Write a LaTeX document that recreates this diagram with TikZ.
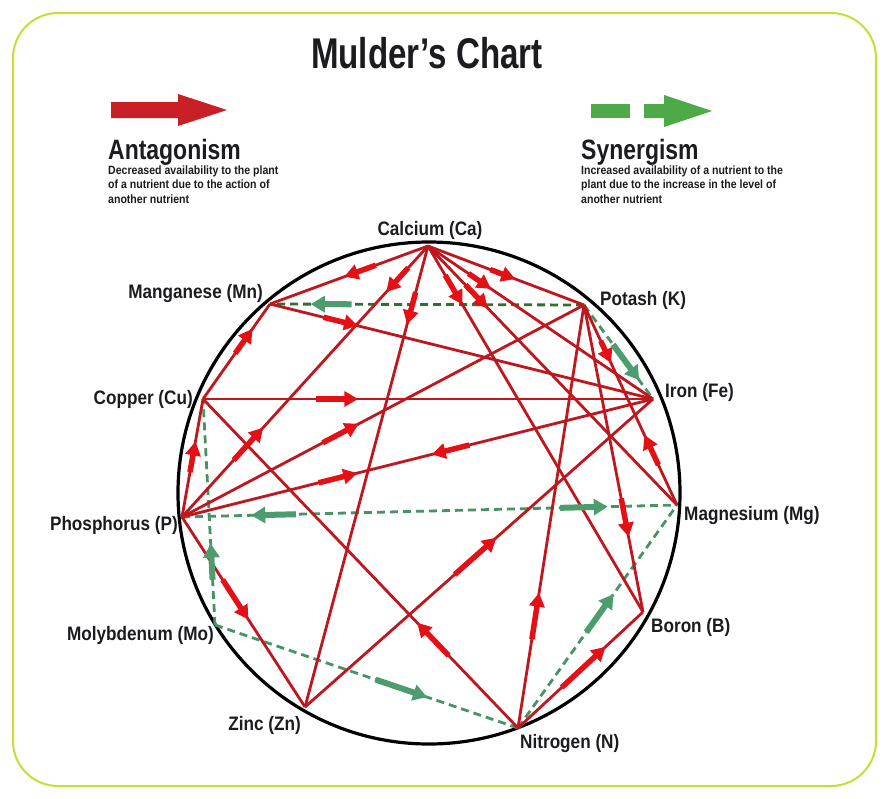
\documentclass[tikz,border=0pt]{standalone}
\usepackage{fontspec}
\usetikzlibrary{calc,arrows.meta}
\newfontfamily\titlefont{Liberation Sans}[FakeStretch=0.77]
\newfontfamily\headfont{Liberation Sans}[FakeStretch=0.82]
\newfontfamily\smallfont{Liberation Sans}[FakeStretch=0.88]
\newfontfamily\labfont{Liberation Sans}[FakeStretch=0.88]
\definecolor{linered}{RGB}{192,22,30}
\definecolor{arrowred}{RGB}{228,16,22}
\definecolor{linegreen}{RGB}{70,148,100}
\definecolor{darkgreen}{RGB}{48,112,44}
\definecolor{arrowgreen}{RGB}{76,156,110}
\definecolor{legred}{RGB}{200,32,38}
\definecolor{leggreen}{RGB}{78,170,72}
\definecolor{bordercol}{RGB}{200,222,50}
\definecolor{txt}{RGB}{28,28,32}
\newcommand\amark[5][ared]{\draw[#1] ($(#2)!#4!(#3)$) -- ($(#2)!#5!(#3)$);}
\begin{document}
\begin{tikzpicture}[x=1pt,y=-1pt,
  redline/.style={draw=linered, line width=2.8pt},
  greenline/.style={draw=linegreen, line width=2.8pt, dash pattern=on 8pt off 5pt},
  darkgreenline/.style={greenline, draw=darkgreen},
  ared/.style={draw=arrowred, line width=5.5pt, -{Triangle[length=14pt,width=15pt]}},
  agreen/.style={draw=arrowgreen, line width=6pt, -{Triangle[length=14pt,width=16pt]}},
  lab/.style={font=\labfont\bfseries\fontsize{19.5}{20}\selectfont, inner sep=0pt, text=txt},
  head/.style={font=\headfont\bfseries\fontsize{28}{28}\selectfont, inner sep=0pt, text=txt},
  small/.style={font=\smallfont\bfseries\fontsize{12}{14.5}\selectfont, inner sep=0pt, text=txt, align=left},
]
\useasboundingbox (0,0) rectangle (889,798);
\fill[white] (0,0) rectangle (889,798);
\draw[bordercol, line width=2pt, rounded corners=45pt] (13,13) rectangle (876,786);

% title and legend
\node[font=\titlefont\bfseries\fontsize{43}{43}\selectfont, inner sep=0pt, text=txt, anchor=base] (title) at (427,68) {Mulder’s Chart};
\fill[legred] (111,102) -- (178,102) -- (178,94) -- (227,110) -- (178,126) -- (178,118) -- (111,118) -- cycle;
\fill[leggreen] (591,104) rectangle (630,118);
\fill[leggreen] (644,104) -- (664,104) -- (664,95) -- (712,111) -- (664,127) -- (664,118) -- (644,118) -- cycle;
\node[head, anchor=base west] (ant) at (108,159) {Antagonism};
\node[small, anchor=north west] (antd) at (108,165.5) {Decreased availability to the plant\\of a nutrient due to the action of\\another nutrient};
\node[head, anchor=base west] (syn) at (581,159) {Synergism};
\node[small, anchor=north west] (synd) at (581,165.5) {Increased availability of a nutrient to the\\plant due to the increase in the level of\\another nutrient};

% circle
\draw[black, line width=3.2pt] (429,493) circle[radius=251pt];

% points
\coordinate (Ca) at (428,246);
\coordinate (Mn) at (270,304);
\coordinate (K) at (584,305);
\coordinate (Fe) at (653,399);
\coordinate (Cu) at (203,399);
\coordinate (P) at (182,517);
\coordinate (Mg) at (677,505);
\coordinate (Mo) at (215,625);
\coordinate (B) at (643,612);
\coordinate (Zn) at (305,707);
\coordinate (N) at (518,728);

% labels
\node[lab] (tCa) at (430,230) {Calcium (Ca)};
\node[lab, anchor=east] (tMn) at (263,293) {Manganese (Mn)};
\node[lab, anchor=west] (tK) at (600,300) {Potash (K)};
\node[lab, anchor=west] (tFe) at (665,392) {Iron (Fe)};
\node[lab, anchor=east] (tCu) at (193,399) {Copper (Cu)};
\node[lab, anchor=east] (tP) at (178,525) {Phosphorus (P)};
\node[lab, anchor=west] (tMg) at (684,515) {Magnesium (Mg)};
\node[lab, anchor=east] (tMo) at (214,635) {Molybdenum (Mo)};
\node[lab, anchor=west] (tB) at (651,627) {Boron (B)};
\node[lab, anchor=east] (tZn) at (301,725) {Zinc (Zn)};
\node[lab, anchor=west] (tN) at (520,743) {Nitrogen (N)};

% green synergism lines
\draw[darkgreenline] (K) -- (Mn);
\draw[greenline] (K) -- (Fe);
\draw[greenline] (P) -- (Mg);
\draw[greenline] (N) -- (Mg);
\draw[greenline] (Mo) -- (N);
\draw[greenline] (Mo) -- (Cu);

% red antagonism lines
\draw[redline] (Ca) -- (Mn);
\draw[redline] (Ca) -- (P);
\draw[redline] (Ca) -- (Zn);
\draw[redline] (Ca) -- (K);
\draw[redline] (Ca) -- (Fe);
\draw[redline] (Ca) -- (Mg);
\draw[redline] (Ca) -- (B);
\draw[redline] (Mn) -- (Fe);
\draw[redline] (Cu) -- (Mn);
\draw[redline] (Cu) -- (Fe);
\draw[redline] (P) -- (Cu);
\draw[redline] (P) -- (K);
\draw[redline] (P) -- (Fe);
\draw[redline] (P) -- (Zn);
\draw[redline] (N) -- (Cu);
\draw[redline] (N) -- (K);
\draw[redline] (N) -- (B);
\draw[redline] (Zn) -- (Fe);
\draw[redline] (K) -- (Mg);
\draw[redline] (K) -- (B);

% red arrow marks
\amark{Ca}{Mn}{0.33}{0.53}
\amark{Ca}{P}{0.08}{0.17}
\amark{P}{Ca}{0.21}{0.33}
\amark{Ca}{Zn}{0.10}{0.17}
\amark{Ca}{K}{0.40}{0.56}
\amark{Ca}{Fe}{0.18}{0.28}
\amark{Ca}{Mg}{0.15}{0.24}
\amark{Ca}{B}{0.08}{0.16}
\amark{Mn}{Fe}{0.14}{0.23}
\amark{Cu}{Mn}{0.48}{0.74}
\amark{Cu}{Fe}{0.25}{0.345}
\amark{P}{Cu}{0.38}{0.64}
\amark{P}{K}{0.35}{0.44}
\amark{P}{Fe}{0.29}{0.372}
\amark{Fe}{P}{0.39}{0.47}
\amark{P}{Zn}{0.33}{0.54}
\amark{N}{Cu}{0.22}{0.32}
\amark{N}{K}{0.21}{0.32}
\amark{N}{B}{0.35}{0.70}
\amark{Zn}{Fe}{0.43}{0.55}
\amark{K}{Mg}{0.18}{0.29}
\amark{Mg}{K}{0.20}{0.35}
\amark{K}{B}{0.63}{0.755}

% green arrow marks
\amark[agreen]{K}{Mn}{0.74}{0.87}
\amark[agreen]{K}{Fe}{0.42}{0.80}
\amark[agreen]{Mg}{P}{0.77}{0.86}
\amark[agreen]{P}{Mg}{0.764}{0.86}
\amark[agreen]{N}{Mg}{0.43}{0.60}
\amark[agreen]{Mo}{N}{0.53}{0.70}
\amark[agreen]{Mo}{Cu}{0.20}{0.36}
\end{tikzpicture}
\end{document}
